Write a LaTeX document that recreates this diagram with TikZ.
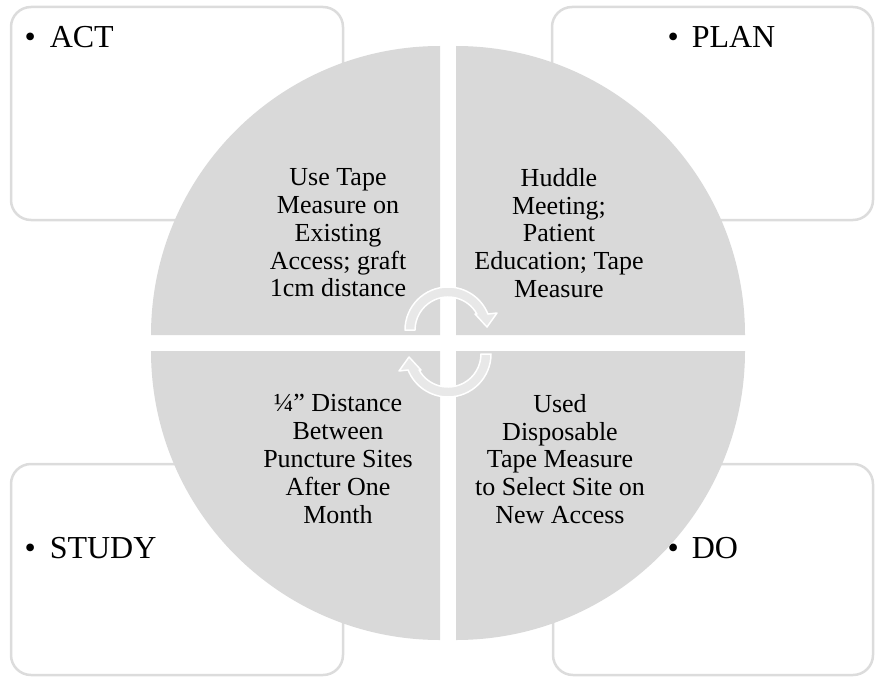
\documentclass[tikz,border=0pt]{standalone}
\usepackage{fontspec}
\setmainfont{Liberation Serif}
\definecolor{boxgray}{HTML}{DCDCDC}
\definecolor{quadgray}{HTML}{D9D9D9}
\definecolor{arrowgray}{HTML}{E8E8E8}
\begin{document}
\begin{tikzpicture}[x=1pt,y=1pt,
  cornerbox/.style={draw=boxgray, line width=2.5pt, rounded corners=20pt, fill=white},
  quad/.style={fill=quadgray},
  cyc/.style={fill=arrowgray, draw=white, line width=1.5pt, line join=round},
  quadtext/.style={align=center, font=\fontsize{26}{27.8}\selectfont, inner sep=0pt},
  lbl/.style={anchor=base west, inner sep=0pt, font=\fontsize{32}{38}\selectfont}]
\useasboundingbox (0,0) rectangle (875,-677);

% corner boxes
\draw[cornerbox] (11,-7) rectangle (343,-220);
\draw[cornerbox] (552,-7) rectangle (873,-220);
\draw[cornerbox] (11,-464) rectangle (343,-675);
\draw[cornerbox] (553,-464) rectangle (873,-675);

% labels
\node[lbl] (act)   at (24.4,-48)  {•\hspace{14pt}ACT};
\node[lbl] (plan)  at (667.4,-48) {•\hspace{13pt}PLAN};
\node[lbl] (study) at (24.4,-558) {•\hspace{14pt}STUDY};
\node[lbl] (do)    at (667.4,-558) {•\hspace{13pt}DO};

% quadrants
\fill[quad] (440,-335) -- (151,-335) arc[start angle=180, end angle=90, radius=289] -- cycle;
\fill[quad] (456,-335) -- (456,-46) arc[start angle=90, end angle=0, radius=289] -- cycle;
\fill[quad] (440,-351) -- (151,-351) arc[start angle=180, end angle=270, radius=289] -- cycle;
\fill[quad] (456,-351) -- (745,-351) arc[start angle=0, end angle=-90, radius=289] -- cycle;

% quadrant texts
\node[quadtext] (tl) at (338,-233) {Use Tape\\Measure on\\Existing\\Access; graft\\1cm distance};
\node[quadtext] (tr) at (559,-233) {Huddle\\Meeting;\\Patient\\Education; Tape\\Measure};
\node[quadtext] (bl) at (338,-459) {¼” Distance\\Between\\Puncture Sites\\After One\\Month};
\node[quadtext] (br) at (560,-459) {Used\\Disposable\\Tape Measure\\to Select Site on\\New Access};

% circular arrows
\path[cyc] (405,-330) arc[start angle=180, end angle=21.8, radius=43]
  -- (497,-313) -- (487,-327) -- (475,-314) -- (476.9,-314)
  arc[start angle=29, end angle=180, radius=33] -- cycle;
\path[cyc] (491,-354) arc[start angle=0, end angle=-158.2, radius=43]
  -- (399,-371) -- (409,-357) -- (421,-370) -- (419.1,-370)
  arc[start angle=-151, end angle=0, radius=33] -- cycle;
\end{tikzpicture}
\end{document}
